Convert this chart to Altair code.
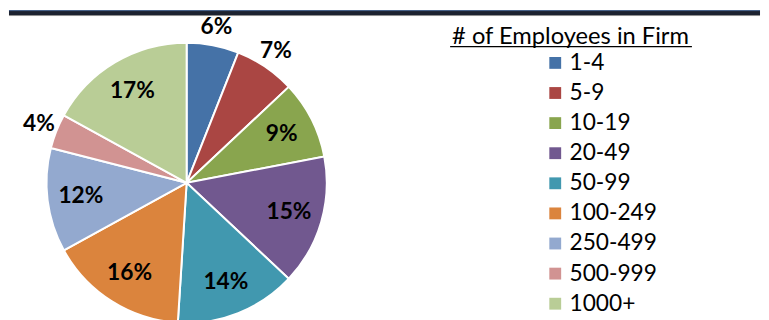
import altair as alt
import pandas as pd

categories = ["1-4", "5-9", "10-19", "20-49", "50-99", "100-249", "250-499", "500-999", "1000+"]
percents = [6, 7, 9, 15, 14, 16, 12, 4, 17]
colors = ["#4572A7", "#AA4643", "#89A54E", "#71588F", "#4198AF",
          "#DB843D", "#93A9CF", "#D19392", "#B9CD96"]
legend_title = "# of Employees in Firm"

df = pd.DataFrame({"cat": categories, "pct": percents, "idx": list(range(len(categories)))})

FONT = "Lato"
CX, CY, R = 180, 175, 142

pie = alt.Chart(df).mark_arc(radius=R, stroke="white", strokeWidth=2).encode(
    theta=alt.Theta("pct:Q", stack=True, scale=alt.Scale(domain=[0, 100])),
    order=alt.Order("idx:Q"),
    x=alt.value(CX),
    y=alt.value(CY),
    color=alt.Color(
        "cat:N",
        scale=alt.Scale(domain=categories, range=colors),
        sort=categories,
        legend=alt.Legend(
            title=None,
            orient="none",
            legendX=542,
            legendY=42,
            symbolType="square",
            symbolSize=144,
            symbolStrokeWidth=0,
            labelFontSize=23,
            labelFont=FONT,
            labelColor="black",
            rowPadding=6.5,
            labelOffset=3,
        ),
    ),
)

labels = alt.Chart(df).transform_window(
    cum="sum(pct)", sort=[alt.SortField("idx")], frame=[None, 0]
).transform_calculate(
    mid="datum.cum - datum.pct / 2",
    label="datum.pct + '%'",
    lr="datum.pct < 8 ? 161 : 108",
).mark_text(font=FONT, fontSize=23, fontWeight="bold", color="black").encode(
    theta=alt.Theta("mid:Q", stack=None, scale=alt.Scale(domain=[0, 100])),
    radius=alt.Radius("lr:Q", scale=None),
    text="label:N",
    x=alt.value(CX),
    y=alt.value(CY),
)

one = pd.DataFrame({"t": [legend_title]})
title = alt.Chart(one).mark_text(font=FONT, fontSize=24, color="black", align="center", baseline="alphabetic").encode(
    text="t:N", x=alt.value(569), y=alt.value(34)
)
underline = alt.Chart(one).mark_rule(color="black", strokeWidth=1.5).encode(
    x=alt.value(447), x2=alt.value(692), y=alt.value(37)
)

top_dark = alt.Chart(one).mark_rect(color="#1c2230").encode(
    x=alt.value(0), x2=alt.value(761), y=alt.value(0), y2=alt.value(5)
)
top_blue = alt.Chart(one).mark_rule(color="#4d6a93", strokeWidth=1).encode(
    x=alt.value(0), x2=alt.value(761), y=alt.value(0.5)
)
top_grey = alt.Chart(one).mark_rule(color="#8a8a8a", strokeWidth=1).encode(
    x=alt.value(0), x2=alt.value(761), y=alt.value(5.5)
)

chart = alt.layer(pie, labels, title, underline, top_dark, top_blue, top_grey).properties(
    width=761, height=312, padding=0
).configure_view(stroke=None)

chart.save("out.html", embed_options={"renderer": "svg", "actions": False})
